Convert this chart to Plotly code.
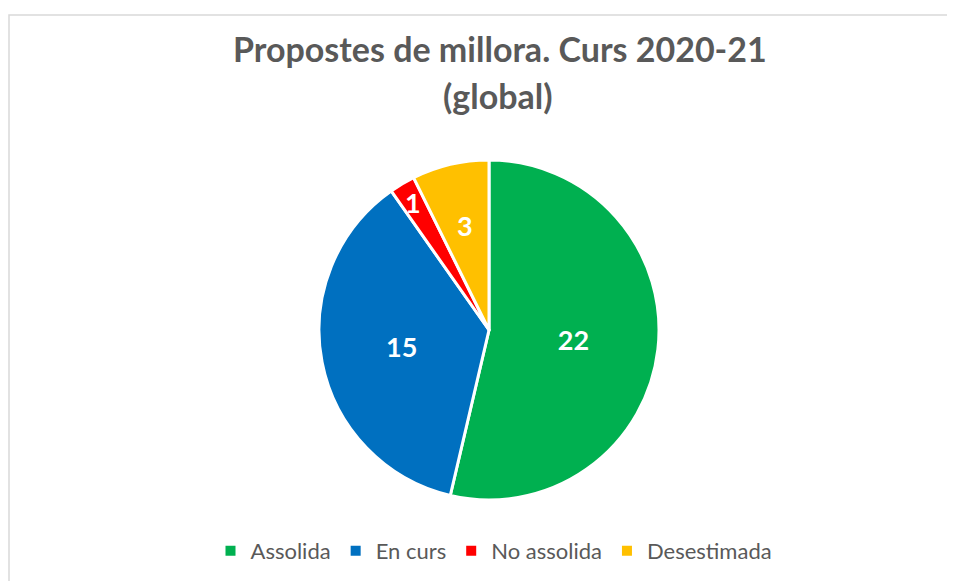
import math
import plotly.graph_objects as go

categories = ["Assolida", "En curs", "No assolida", "Desestimada"]
values = [22, 15, 1, 3]
colors = ["#00B050", "#0070C0", "#FF0000", "#FFC000"]
title_lines = ["Propostes de millora. Curs 2020-21", "(global)"]
# radial position (fraction of radius) for labels of the thin slices
small_label_radius = {"No assolida": 0.87, "Desestimada": 0.63}

OFF = 8  # page body offset
W, H = 955 - OFF, 581 - OFF
CX, CY, R = 489, 330, 170  # pie centre / radius in window pixels


def px(x):
    return (x - OFF) / W


def py(y):
    return 1 - (y - OFF) / H


label_font = dict(family="Lato, Open Sans, sans-serif", size=27, color="white", weight="bold")

texts = [str(v) if c not in small_label_radius else "" for c, v in zip(categories, values)]

fig = go.Figure(go.Pie(
    labels=categories,
    values=values,
    text=texts,
    sort=False,
    direction="clockwise",
    rotation=0,
    marker=dict(colors=colors, line=dict(color="white", width=3)),
    textinfo="text",
    textposition="inside",
    insidetextorientation="horizontal",
    textfont=label_font,
    domain=dict(x=[px(CX - R), px(CX + R)], y=[py(CY + R), py(CY - R)]),
    hoverinfo="label+value",
))

title_font = dict(family="Lato, Open Sans, sans-serif", size=34, color="#595959", weight="bold")
annotations = [
    dict(text=title_lines[0], x=px(500), y=py(48), xref="paper", yref="paper",
         xanchor="center", yanchor="middle", showarrow=False, font=title_font),
    dict(text=title_lines[1], x=px(498), y=py(95), xref="paper", yref="paper",
         xanchor="center", yanchor="middle", showarrow=False, font=title_font),
]

# labels of the thin slices, placed at the slice's mid angle
total = sum(values)
cum = 0
for c, v in zip(categories, values):
    mid = (cum + v / 2) / total * 2 * math.pi
    cum += v
    if c in small_label_radius:
        rr = small_label_radius[c] * R
        lx = CX + rr * math.sin(mid)
        ly = CY - rr * math.cos(mid)
        annotations.append(dict(text=str(v), x=px(lx), y=py(ly), xref="paper", yref="paper",
                                xanchor="center", yanchor="middle", showarrow=False,
                                font=label_font))

fig.update_layout(
    width=W, height=H,
    margin=dict(l=0, r=0, t=0, b=0),
    paper_bgcolor="white",
    annotations=annotations,
    legend=dict(
        orientation="h",
        x=px(494), xanchor="center",
        y=py(551), yanchor="middle",
        font=dict(family="Lato, Open Sans, sans-serif", size=22, color="#595959"),
        itemsizing="constant",
    ),
    uniformtext=dict(minsize=27, mode="show"),
    shapes=[dict(
        type="rect", xref="paper", yref="paper",
        x0=px(9), x1=1.05, y0=-0.05, y1=py(15),
        line=dict(color="#D9D9D9", width=1.5),
        fillcolor="rgba(0,0,0,0)",
        layer="below",
    )],
)

fig.write_html("out.html")
